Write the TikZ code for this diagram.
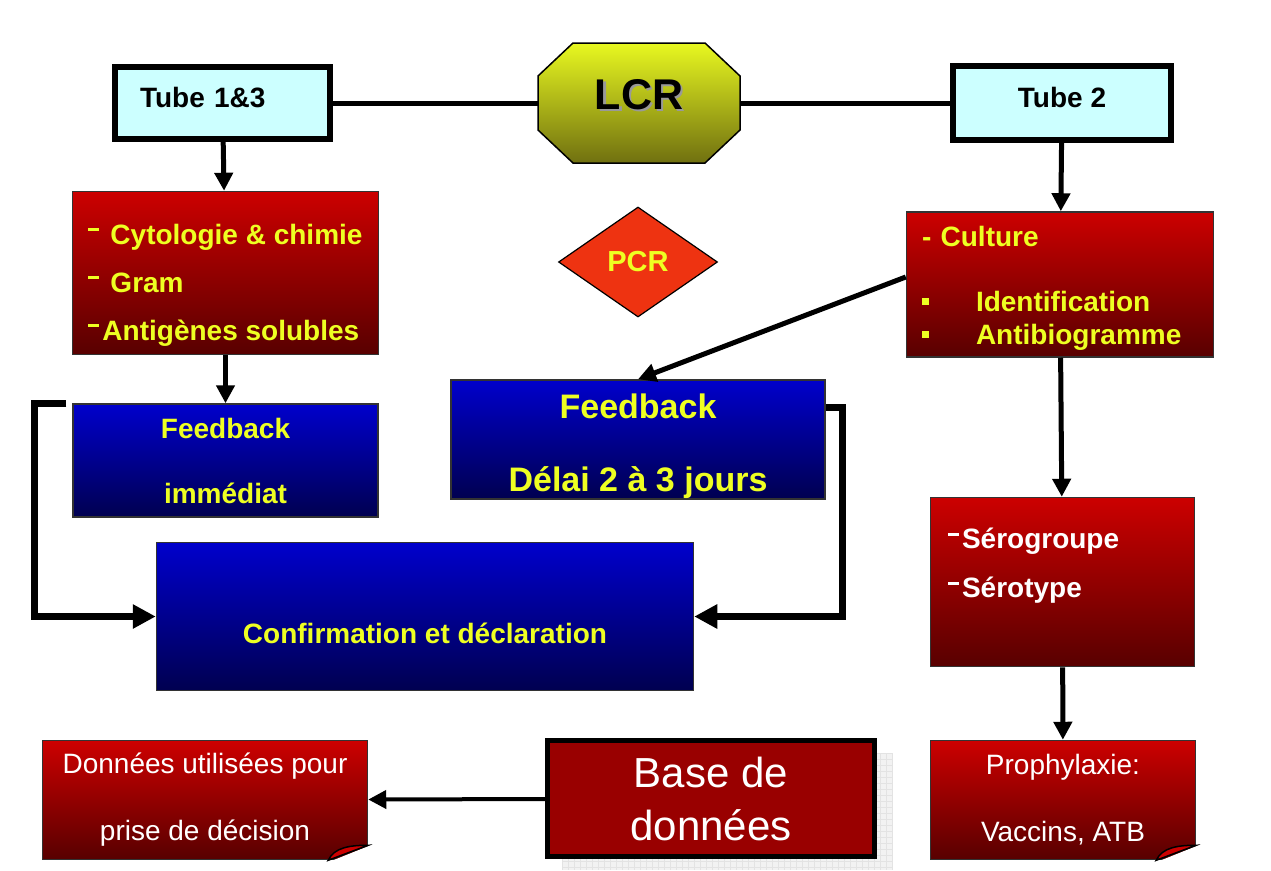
\documentclass[tikz,border=0pt]{standalone}
\usepackage{fontspec}
\setmainfont{Liberation Sans}
\usetikzlibrary{arrows.meta,shapes.geometric}

\definecolor{tubecyan}{RGB}{204,255,255}
\definecolor{boxred}{RGB}{204,0,0}
\definecolor{boxdarkred}{RGB}{88,0,0}
\definecolor{boxblue}{RGB}{0,0,204}
\definecolor{boxdarkblue}{RGB}{0,0,80}
\definecolor{txtyellow}{RGB}{238,255,34}
\definecolor{lcrtop}{RGB}{232,248,32}
\definecolor{lcrbottom}{RGB}{112,112,16}
\definecolor{pcrred}{RGB}{238,51,17}
\definecolor{basered}{RGB}{153,0,0}

\newcommand{\fsz}[2]{\fontsize{#1}{#2}\selectfont}
\newcommand{\updash}{\rule[13pt]{11pt}{3pt}}
\newcommand{\sqbullet}{\rule[6pt]{7pt}{7pt}}
\newcommand{\padbelow}[1]{\rule[-#1]{0pt}{#1}}

\begin{document}
\begin{tikzpicture}[x=1pt,y=-1pt,
  thick,
  tube node/.style={rectangle,draw=black,line width=6pt,fill=tubecyan,
    font=\fsz{28}{34}\bfseries,inner sep=0pt,text depth=12pt},
  red box/.style={rectangle,draw=black!80,line width=1.5pt,
    top color=boxred,bottom color=boxdarkred,inner sep=0pt},
  blue box/.style={rectangle,draw=black!80,line width=1.5pt,
    top color=boxblue,bottom color=boxdarkblue,inner sep=0pt,
    text=txtyellow,align=center},
  note box/.style={red box,text=white,align=center,font=\fsz{28}{67}},
  arrow line/.style={line width=5pt,-{Triangle[length=18pt,width=18pt]}},
  elbow line/.style={line width=7pt,-{Triangle[length=23pt,width=23pt]}}]

  \useasboundingbox (0,0) rectangle (1271,870);

  % top row
  \node[tube node,minimum width=215pt,minimum height=72pt,text width=165pt,align=left] (tube13) at (222.5,103) {Tube 1\&3};
  \path[draw=black,line width=1.5pt,top color=lcrtop,bottom color=lcrbottom]
    (573,43) -- (705,43) -- (740,76) -- (740,130) -- (705,163) -- (573,163) -- (538,130) -- (538,76) -- cycle;
  \node[font=\fsz{43}{43}\bfseries,text=black!40,text depth=18pt] (lcrshadow) at (641.5,105.5) {LCR};
  \node[font=\fsz{43}{43}\bfseries,minimum width=202pt,minimum height=120pt,text depth=18pt] (lcr) at (639,103) {LCR};
  \node[tube node,minimum width=218pt,minimum height=74pt] (tube2) at (1062,103) {Tube 2};

  % red boxes
  \node[red box,minimum width=306pt,minimum height=163pt,align=left,
    text=txtyellow,font=\fsz{28}{48}\bfseries] (cyto) at (225.5,273)
    {\rule{0pt}{44pt}\updash\hspace{11pt}Cytologie \& chimie\\ \updash\hspace{11pt}Gram\\ \updash\hspace{3pt}Antigènes solubles};
  \node[red box,minimum width=307pt,minimum height=145pt,text width=276pt,align=left,
    text=txtyellow,font=\fsz{28}{33}\bfseries] (culture) at (1060,284.5)
    {\rule{0pt}{27pt}- Culture\\[32pt] \sqbullet\hspace{47pt}Identification\\ \sqbullet\hspace{47pt}Antibiogramme};
  \node[red box,minimum width=264pt,minimum height=169pt,text width=229pt,align=left,
    text=white,font=\fsz{28}{49}\bfseries] (sero) at (1062.5,582)
    {\updash\hspace{3pt}Sérogroupe\\ \updash\hspace{3pt}Sérotype\padbelow{38pt}};

  \node[diamond,draw=black,line width=1.2pt,fill=pcrred,minimum width=159pt,minimum height=110pt,
    inner sep=0pt,text=txtyellow,font=\fsz{29}{29}\bfseries] (pcr) at (638,262) {PCR};

  % blue boxes
  \node[blue box,minimum width=305pt,minimum height=113pt,font=\fsz{28}{65}\bfseries] (fbimm) at (225.5,460.5) {Feedback\\immédiat};
  \node[blue box,minimum width=374pt,minimum height=119pt,font=\fsz{34}{73}\bfseries] (fbdel) at (638,439.5) {\rule{0pt}{38pt}Feedback\\Délai 2 à 3 jours};
  \node[blue box,minimum width=537pt,minimum height=148pt,font=\fsz{28}{28}\bfseries,
    text height=53pt,text depth=0pt] (conf) at (425,616.5) {Confirmation et déclaration};

  % bottom row
  \node[note box,minimum width=325pt,minimum height=119pt] (donnees) at (205,800) {Données utilisées pour\\prise de décision};
  \node[note box,minimum width=265pt,minimum height=119pt] (proph) at (1063,800) {Prophylaxie:\\Vaccins, ATB};

  \fill[black!5] (562,753) rectangle (893,870);
  \foreach \gx in {562,568,...,892} \draw[black!11,line width=0.4pt] (\gx,753) -- (\gx,870);
  \foreach \gy in {753,759,...,869} \draw[black!11,line width=0.4pt] (562,\gy) -- (893,\gy);
  \node[rectangle,draw=black,line width=5pt,fill=basered,minimum width=327pt,minimum height=116pt,
    text=white,align=center,font=\fsz{42}{53}] (base) at (711,798.5) {Base de\\données};

  % folded corners
  \foreach \n in {donnees,proph} {
    \fill[white] ([xshift=-40pt,yshift=-2pt]\n.south east) -- ([xshift=2pt,yshift=-2pt]\n.south east)
      -- ([xshift=2pt,yshift=15pt]\n.south east) -- cycle;
    \draw[line width=1.5pt,fill=boxred] ([xshift=-40pt]\n.south east) -- ([yshift=15pt]\n.south east)
      .. controls ([xshift=-18pt,yshift=15pt]\n.south east) and ([xshift=-34pt,yshift=13pt]\n.south east)
      .. ([xshift=-40pt]\n.south east) -- cycle;
  }

  % connectors
  \draw[line width=5pt] (tube13) -- (lcr);
  \draw[line width=5pt] (lcr) -- (tube2);
  \draw[arrow line] (tube13) -- (cyto);
  \draw[arrow line] (cyto) -- (fbimm);
  \draw[arrow line] (tube2) -- (culture);
  \draw[arrow line] ([yshift=7.5pt]culture.west) -- (fbdel.north);
  \draw[arrow line] (culture) -- (sero);
  \draw[arrow line] (sero) -- (proph);
  \draw[arrow line,line width=4pt] (base) -- (donnees);
  \draw[elbow line] ([xshift=-6pt]fbimm.north west) -- ++(-32,0) |- (conf.west);
  \draw[elbow line] ([yshift=32pt]fbdel.east) -- ++(16.5,0) |- (conf.east);
\end{tikzpicture}
\end{document}
